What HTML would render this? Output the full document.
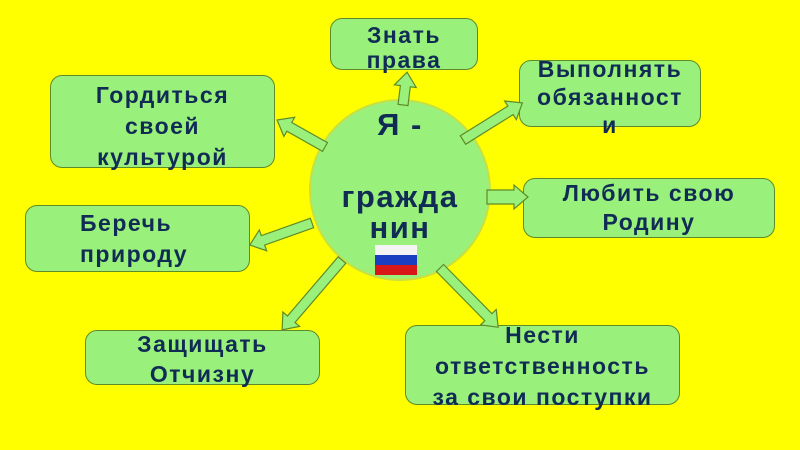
<!DOCTYPE html>
<html><head><meta charset="utf-8"><style>
body{margin:0;width:800px;height:450px;background:#ffff00;position:relative;overflow:hidden;font-family:"Liberation Sans",sans-serif}
.b{position:absolute;background:#99f07a;border:1.5px solid #5f8a2a;border-radius:12px;box-sizing:border-box;color:#102c55;font-weight:bold;font-size:23px;letter-spacing:1.5px;text-align:center;}
.b div{position:relative;white-space:nowrap}
svg{position:absolute;left:0;top:0}
.t{position:absolute;color:#102c55;font-weight:bold;font-size:31px;letter-spacing:1.5px;line-height:36px;text-align:center;width:180px;left:310px}
</style></head><body>
<div class="b" style="left:330px;top:18px;width:148px;height:52px"><div style="top:4px;line-height:25px">Знать<br>права</div></div>
<div class="b" style="left:519px;top:60px;width:182px;height:67px"><div style="top:-6px;line-height:28px">Выполнять<br>обязанност<br>и</div></div>
<div class="b" style="left:50px;top:75px;width:225px;height:93px"><div style="top:4px;line-height:31px">Гордиться<br>своей<br>культурой</div></div>
<div class="b" style="left:523px;top:178px;width:252px;height:60px"><div style="top:0px;line-height:29px">Любить свою<br>Родину</div></div>
<div class="b" style="left:25px;top:205px;width:225px;height:67px;text-align:left"><div style="top:2px;left:54px;line-height:31px">Беречь<br>природу</div></div>
<div class="b" style="left:85px;top:330px;width:235px;height:55px"><div style="top:-2px;line-height:30px">Защищать<br>Отчизну</div></div>
<div class="b" style="left:405px;top:325px;width:275px;height:80px"><div style="top:-6px;line-height:31px">Нести<br>ответственность<br>за свои поступки</div></div>
<svg width="800" height="450">
<circle cx="400" cy="190" r="90" fill="#99f07a" stroke="#c8e040" stroke-width="2"/>
<g fill="#99f07a" stroke="#5f8a2a" stroke-width="1.2">
<g transform="translate(403,105) rotate(-83)"><polygon points="0,-5 19,-5 19,-11 33,0 19,11 19,5 0,5"/></g>
<g transform="translate(463,140) rotate(-32)"><polygon points="0,-5 56,-5 56,-11 70,0 56,11 56,5 0,5"/></g>
<g transform="translate(325,147) rotate(-150.6)"><polygon points="0,-5 41,-5 41,-11 55,0 41,11 41,5 0,5"/></g>
<g transform="translate(487,197) rotate(0)"><polygon points="0,-7 27,-7 27,-12 41,0 27,12 27,7 0,7"/></g>
<g transform="translate(312,223) rotate(160.5)"><polygon points="0,-5 52,-5 52,-11 66,0 52,11 52,5 0,5"/></g>
<g transform="translate(342,260) rotate(130.6)"><polygon points="0,-5 78,-5 78,-11 92,0 78,11 78,5 0,5"/></g>
<g transform="translate(440,268) rotate(45.5)"><polygon points="0,-5 69,-5 69,-11 83,0 69,11 69,5 0,5"/></g>
</g>
<rect x="375" y="245" width="42" height="10" fill="#f4f4f4"/>
<rect x="375" y="255" width="42" height="10" fill="#1a3fc0"/>
<rect x="375" y="265" width="42" height="10" fill="#d81818"/>
</svg>
<div class="t" style="top:107px">Я -</div>
<div class="t" style="top:179px">гражда</div>
<div class="t" style="top:210px">нин</div>
</body></html>
